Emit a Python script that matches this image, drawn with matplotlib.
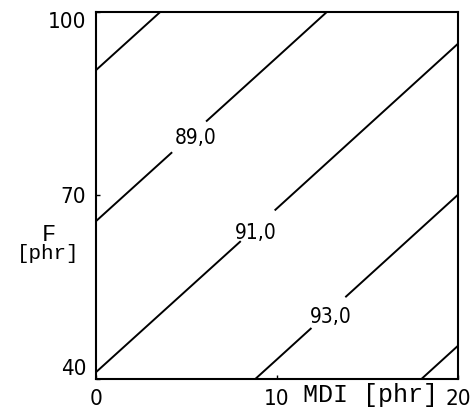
import matplotlib
matplotlib.use("Agg")
import matplotlib.pyplot as plt
import numpy as np

# grid (MDI across, F up)
mdi = [0, 10, 20]
f_phr = [40, 70, 100]
z_f40 = [91.09, 93.26, 95.44]
z_f70 = [88.66, 90.83, 93.01]
z_f100 = [86.23, 88.40, 90.58]

levels = [87.0, 89.0, 91.0, 93.0, 95.0]
# gaps cut in the 89, 91 and 93 lines, and where the label text sits
label_spots = [(5.14, 79.6), (8.95, 65.0), (12.98, 50.4)]
label_xy = [(5.52, 79.4), (8.84, 63.9), (12.98, 50.1)]

plt.rcParams['font.family'] = ['DejaVu Sans']
plt.rcParams['font.stretch'] = 'condensed'
mono = ['Liberation Mono', 'DejaVu Sans Mono']

fig = plt.figure(figsize=(4.74, 4.11), dpi=100)
ax = fig.add_axes([0.2025, 0.0779, 0.7637, 0.8929])

Z = np.array([z_f40, z_f70, z_f100])
cs = ax.contour(mdi, f_phr, Z, levels=levels, colors='black', linewidths=1.4)
txts = ax.clabel(cs, fontsize=15, inline=True, inline_spacing=2,
                 fmt=lambda v: f"{v:.1f}".replace('.', ','), manual=label_spots)
for t, xy in zip(txts, label_xy):
    t.set_rotation(0)
    t.set_position(xy)

ax.set_xlim(0, 20)
ax.set_ylim(40, 100)
for s in ax.spines.values():
    s.set_linewidth(1.5)

ax.set_xticks([0, 10, 20])
ax.set_xticklabels(['0', '10', '20'], fontsize=16)
ax.set_yticks([40, 70, 100])
ylabs = ax.set_yticklabels(['40', '70', '100'], fontsize=16)
ylabs[0].set_va('bottom')
ylabs[2].set_va('top')
ax.tick_params(direction='in', length=3, width=1, pad=7)

ax.text(0.757, -0.012, 'MDI [phr]', transform=ax.transAxes, ha='center', va='top',
        fontsize=18, family=mono, stretch='normal')
ax.text(-0.13, 0.395, 'F', transform=ax.transAxes, ha='center', va='center',
        fontsize=17, family=mono, stretch='normal')
ax.text(-0.133, 0.343, '[phr]', transform=ax.transAxes, ha='center', va='center',
        fontsize=15, family=mono, stretch='normal')

fig.savefig('out.png', dpi=100)
